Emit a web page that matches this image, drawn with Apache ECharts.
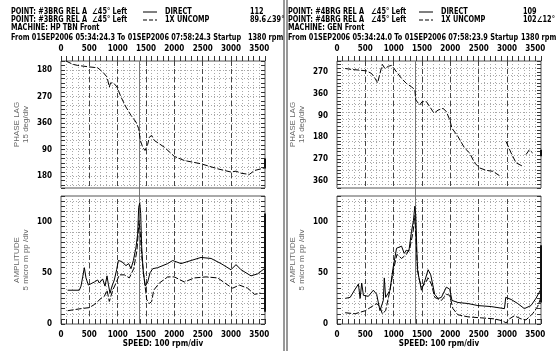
<!DOCTYPE html>
<html>
<head>
<meta charset="utf-8">
<script src="https://cdn.jsdelivr.net/npm/echarts@6/dist/echarts.min.js"></script>
<style>
html, body { margin: 0; padding: 0; background: #fff; }
#chart { width: 557px; height: 351px; }
</style>
</head>
<body>
<div id="chart"></div>
<script>
// speed axis
var rpmLabels = [0, 500, 1000, 1500, 2000, 2500, 3000, 3500];
var rpmMajorLines = [500, 1000, 1500, 2000, 2500, 3000];
var cursorRpm = 1380;

// phase / amplitude tick labels (phase is unwrapped, shown mod 360)
var leftPhaseTicks = [180, 270, 360, 450, 540];
var rightPhaseTicks = [270, 360, 450, 540, 630, 720];
var ampTicks = [0, 50, 100];

// #3BRG (left) - [rpm, value]
var leftPhase1x = [
  [88, 150], [206, 161], [294, 165], [500, 170], [647, 173], [735, 187], [812, 204],
  [853, 238], [875, 224], [900, 219], [935, 226], [988, 238], [1059, 272], [1147, 306],
  [1235, 334], [1324, 357], [1371, 379], [1400, 419], [1442, 442], [1483, 453], [1530, 432],
  [1559, 408], [1600, 402], [1647, 419], [1824, 442], [2000, 473], [2177, 487], [2471, 498],
  [2765, 515], [3000, 526], [3089, 523], [3177, 530], [3324, 534], [3412, 521], [3588, 512]
];
var leftPhaseEnd = [[3600, 480], [3600, 514]];

var leftAmpDirect = [
  [118, 33], [323, 33], [353, 37], [383, 46], [412, 55], [441, 45], [482, 38], [588, 41],
  [647, 43], [676, 40], [735, 44], [777, 37], [812, 47], [835, 39], [865, 30], [900, 37],
  [941, 43], [982, 53], [1012, 62], [1071, 61], [1147, 57], [1194, 59], [1235, 54], [1277, 62],
  [1324, 75], [1353, 88], [1371, 114], [1389, 118], [1406, 108], [1424, 75], [1453, 50],
  [1488, 37], [1530, 41], [1571, 50], [1618, 54], [1706, 55], [1883, 59], [1971, 62],
  [2118, 59], [2295, 62], [2471, 65], [2648, 64], [2824, 59], [3000, 53], [3089, 58],
  [3177, 53], [3353, 47], [3471, 49], [3588, 54]
];
var leftAmp1x = [
  [118, 13], [353, 15], [500, 16], [588, 19], [706, 25], [765, 27], [812, 33], [853, 22],
  [912, 33], [971, 40], [1030, 48], [1118, 48], [1206, 45], [1283, 54], [1341, 72],
  [1377, 101], [1400, 88], [1424, 66], [1471, 43], [1512, 24], [1559, 20], [1600, 22],
  [1636, 33], [1735, 40], [1883, 46], [2000, 46], [2177, 41], [2353, 45], [2559, 46],
  [2765, 45], [2971, 37], [3030, 35], [3147, 38], [3294, 35], [3353, 32], [3412, 29],
  [3530, 30]
];
var leftAmpEnd = [[3600, 108], [3600, 12]];

// #4BRG (right)
var rightPhase1x = [
  [144, 256], [260, 260], [408, 263], [524, 266], [611, 277], [671, 297], [717, 315],
  [758, 277], [799, 239], [846, 256], [905, 247], [963, 243], [1051, 270], [1139, 297],
  [1226, 318], [1314, 332], [1373, 343], [1390, 386], [1460, 407], [1502, 393], [1578, 393],
  [1637, 414], [1713, 441], [1783, 428], [1871, 421], [1930, 434], [1989, 468], [2029, 503],
  [2134, 537], [2252, 585], [2340, 605], [2428, 646], [2516, 667], [2633, 677], [2750, 681],
  [2867, 699], [2930, null], [2984, 558], [3072, 605], [3160, 646], [3277, 660],
  [3305, null], [3335, 612], [3394, 592], [3452, 605]
];
var rightPhaseEnd = [[3600, 592], [3600, 619]];

var rightAmpDirect = [
  [144, 25], [232, 26], [320, 34], [378, 39], [408, 25], [436, 40], [466, 28], [553, 27],
  [641, 33], [700, 29], [758, 13], [817, 23], [835, 45], [858, 26], [935, 33], [993, 56],
  [1051, 74], [1139, 76], [1186, 69], [1226, 72], [1268, 71], [1314, 90], [1349, 101],
  [1373, 115], [1390, 106], [1420, 52], [1460, 42], [1490, 33], [1549, 42], [1608, 53],
  [1654, 48], [1724, 29], [1783, 25], [1842, 26], [1930, 36], [1989, 34], [2029, 23],
  [2134, 21], [2310, 20], [2486, 18], [2720, 17], [2955, 15], [2978, 26], [3072, 24],
  [3189, 20], [3306, 15], [3423, 18], [3511, 25], [3599, 34]
];
var rightAmp1x = [
  [144, 11], [320, 10], [500, 13], [641, 18], [700, 20], [758, 17], [799, 10], [858, 13],
  [935, 33], [993, 52], [1058, 68], [1139, 64], [1226, 68], [1285, 74], [1343, 90],
  [1373, 106], [1414, 61], [1443, 45], [1490, 36], [1549, 39], [1608, 45], [1666, 39],
  [1724, 26], [1842, 23], [1930, 29], [1989, 28], [2046, 15], [2134, 9], [2310, 7],
  [2545, 6], [2779, 5], [2926, 3], [2984, 1], [3043, 5], [3130, 8], [3247, 5], [3335, 4],
  [3452, 10], [3540, 17], [3599, 26]
];
var rightAmpEnd = [[3600, 77], [3600, 21]];

var FONT = "'DejaVu Sans Condensed', 'DejaVu Sans', sans-serif";
var dotted = [1, 2];

function phaseFmt(v) {
  var m = v % 360;
  return m === 0 ? '360' : String(m);
}
function plainFmt(v) { return String(v); }

function gridBox(left, top, height, show) {
  return { left: left, top: top, width: 204, height: height, show: show,
    borderColor: '#555', borderWidth: 1, backgroundColor: 'transparent', containLabel: false };
}

function rpmAxis(gi, pos, name) {
  return {
    type: 'value', gridIndex: gi, min: 0, max: 3600, interval: 100, position: pos,
    axisLine: { show: false },
    axisTick: { show: true, inside: pos === 'bottom', length: 5, lineStyle: { color: '#333' } },
    axisLabel: { show: true, customValues: rpmLabels, margin: pos === 'bottom' ? 7 : 8,
      fontSize: 8, fontWeight: 'bold', color: '#000', fontFamily: FONT, formatter: plainFmt },
    splitLine: { show: true, lineStyle: { color: '#a8a8a8', type: dotted } },
    name: name || '', nameLocation: 'middle', nameGap: 16,
    nameTextStyle: { fontSize: 8, fontWeight: 'bold', color: '#000', fontFamily: FONT }
  };
}

function hiddenX(gi) {
  return { type: 'value', gridIndex: gi, min: 0, max: 3600, show: false };
}

function valAxis(gi, pos, min, max, interval, opts) {
  opts = opts || {};
  return {
    type: 'value', gridIndex: gi, position: pos, min: min, max: max, interval: interval,
    inverse: !!opts.inverse, show: opts.show !== false,
    axisLine: { show: false },
    axisTick: { show: !!opts.ticks, inside: true, length: 4, lineStyle: { color: '#333' } },
    axisLabel: { show: !!opts.labels, customValues: opts.labels || undefined, margin: 9,
      fontSize: 8, fontWeight: 'bold', color: '#000', fontFamily: FONT,
      formatter: opts.fmt || plainFmt },
    splitLine: { show: !!opts.split, lineStyle: { color: '#a8a8a8', type: dotted } },
    name: opts.name || '', nameLocation: 'middle', nameGap: opts.nameGap || 30, nameRotate: 90,
    nameTextStyle: { fontSize: 8, color: '#666', fontFamily: "'Liberation Sans', sans-serif",
      lineHeight: 9 }
  };
}

function majorLines() {
  return { silent: true, symbol: 'none', animation: false, label: { show: false },
    lineStyle: { color: '#444', type: [5, 3], width: 1 },
    data: rpmMajorLines.map(function (v) { return { xAxis: v }; }) };
}

function lineSeries(xi, yi, data, dashed, withMajors) {
  var s = { type: 'line', xAxisIndex: xi, yAxisIndex: yi, data: data, showSymbol: false,
    symbol: 'none', connectNulls: false, z: 5,
    lineStyle: { color: '#000', width: 1, type: dashed ? [6, 2] : 'solid' } };
  if (withMajors) s.markLine = majorLines();
  return s;
}

function endSeries(xi, yi, data) {
  return { type: 'line', xAxisIndex: xi, yAxisIndex: yi, data: data, showSymbol: false,
    symbol: 'none', clip: false, z: 6, lineStyle: { color: '#111', width: 2 } };
}

function cursorSeries(xi, yi) {
  return { type: 'line', xAxisIndex: xi, yAxisIndex: yi, data: [[0, 0]], showSymbol: false,
    symbol: 'none', lineStyle: { opacity: 0 },
    markLine: { silent: true, symbol: 'none', label: { show: false },
      lineStyle: { color: '#777', type: 'solid', width: 1 },
      data: [{ xAxis: cursorRpm }] } };
}

var L = 61, R = 337, TP = 61, HP = 127, TA = 196, HA = 128;

var grids = [
  gridBox(L, TP, HP, true), gridBox(L, TA, HA, true), gridBox(L, TP, TA + HA - TP, false),
  gridBox(R, TP, HP, true), gridBox(R, TA, HA, true), gridBox(R, TP, TA + HA - TP, false)
];

var xAxes = [
  rpmAxis(0, 'top'), rpmAxis(1, 'bottom', 'SPEED: 100 rpm/div'), hiddenX(2),
  rpmAxis(3, 'top'), rpmAxis(4, 'bottom', 'SPEED: 100 rpm/div'), hiddenX(5)
];

var yAxes = [
  // 0-2 left phase
  valAxis(0, 'left', 150, 580, 15, { inverse: true, ticks: true, labels: leftPhaseTicks, fmt: phaseFmt,
    name: 'PHASE LAG\n15 deg/div', nameGap: 31 }),
  valAxis(0, 'right', 150, 580, 15, { inverse: true, ticks: true }),
  valAxis(0, 'left', 150, 580, 30, { inverse: true, split: true }),
  // 3-5 left amplitude
  valAxis(1, 'left', 0, 125, 5, { ticks: true, labels: ampTicks,
    name: 'AMPLITUDE\n5 micro m pp /div', nameGap: 31 }),
  valAxis(1, 'right', 0, 125, 5, { ticks: true }),
  valAxis(1, 'left', 0, 125, 10, { split: true }),
  // 6 left cursor
  { type: 'value', gridIndex: 2, min: 0, max: 1, show: false },
  // 7-9 right phase
  valAxis(3, 'left', 225, 750, 15, { inverse: true, ticks: true, labels: rightPhaseTicks, fmt: phaseFmt,
    name: 'PHASE LAG\n15 deg/div', nameGap: 31 }),
  valAxis(3, 'right', 225, 750, 15, { inverse: true, ticks: true }),
  valAxis(3, 'left', 225, 750, 30, { inverse: true, split: true }),
  // 10-12 right amplitude
  valAxis(4, 'left', 0, 125, 5, { ticks: true, labels: ampTicks,
    name: 'AMPLITUDE\n5 micro m pp /div', nameGap: 31 }),
  valAxis(4, 'right', 0, 125, 5, { ticks: true }),
  valAxis(4, 'left', 0, 125, 10, { split: true }),
  // 13 right cursor
  { type: 'value', gridIndex: 5, min: 0, max: 1, show: false }
];

var series = [
  lineSeries(0, 0, leftPhase1x, true, true),
  endSeries(0, 0, leftPhaseEnd),
  lineSeries(1, 3, leftAmpDirect, false, true),
  lineSeries(1, 3, leftAmp1x, true, false),
  endSeries(1, 3, leftAmpEnd),
  cursorSeries(2, 6),
  lineSeries(3, 7, rightPhase1x, true, true),
  endSeries(3, 7, rightPhaseEnd),
  lineSeries(4, 10, rightAmpDirect, false, true),
  lineSeries(4, 10, rightAmp1x, true, false),
  endSeries(4, 10, rightAmpEnd),
  cursorSeries(5, 13)
];

var HF = 'bold 8px ' + FONT;
function txt(x, y, s) {
  return { type: 'text', x: x, y: y, scaleX: 0.91, silent: true,
    style: { text: s, font: HF, fill: '#000', verticalAlign: 'middle' } };
}
function sample(x, y, dash) {
  return { type: 'line', silent: true, shape: { x1: x, y1: y, x2: x + 14, y2: y },
    style: { stroke: '#000', lineWidth: 1, lineDash: dash ? [4, 2] : null } };
}

function header(x0, point, machine, from, val1, val2, xs, xd, xv) {
  return [
    txt(x0, 12, point), txt(xs, 12, '\u222045\u00b0 Left'), sample(xd - 22, 12, false),
    txt(xd, 12, 'DIRECT'), txt(xv, 12, val1),
    txt(x0, 20, point), txt(xs, 20, '\u222045\u00b0 Left'), sample(xd - 22, 20, true),
    txt(xd, 20, '1X UNCOMP'), txt(xv, 20, val2),
    txt(x0, 28, machine),
    txt(x0, 38, from), txt(xv - 2, 38, '1380 rpm')
  ];
}

var graphics = []
  .concat(header(11, 'POINT: #3BRG REL A', 'MACHINE: HP TBN Front',
    'From 01SEP2006 05:34:24.3 To 01SEP2006 07:58:24.3 Startup', '112', '89.6\u222039\u00b0', 92, 165, 250))
  .concat(header(288, 'POINT: #4BRG REL A', 'MACHINE: GEN Front',
    'From 01SEP2006 05:34:24.0 To 01SEP2006 07:58:23.9 Startup', '109', '102\u222012\u00b0', 371, 441, 523))
  .concat([
    { type: 'line', silent: true, shape: { x1: 284, y1: 0, x2: 284, y2: 351 }, style: { stroke: '#333', lineWidth: 1 } },
    { type: 'line', silent: true, shape: { x1: 287, y1: 0, x2: 287, y2: 351 }, style: { stroke: '#333', lineWidth: 1 } }
  ]);

var chart = echarts.init(document.getElementById('chart'));
chart.setOption({
  animation: false,
  backgroundColor: '#fff',
  grid: grids,
  xAxis: xAxes,
  yAxis: yAxes,
  series: series,
  graphic: graphics
});
</script>
</body>
</html>
